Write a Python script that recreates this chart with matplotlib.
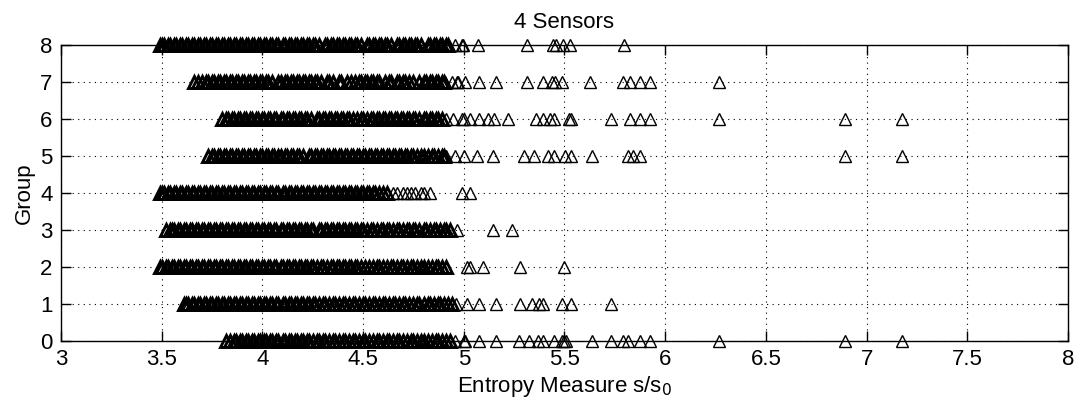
import numpy as np
import matplotlib
matplotlib.use('Agg')
import matplotlib.pyplot as plt

# entropy values; the packed band and the scattered tail of each group
dense0 = [3.82, 3.84, 3.86, 3.87, 3.89, 3.90, 3.92, 3.93, 3.95, 3.96, 3.98, 3.99, 4.01, 4.02, 4.04, 4.05,
          4.07, 4.08, 4.10, 4.11, 4.13, 4.14, 4.16, 4.17, 4.19, 4.20, 4.22, 4.23, 4.25, 4.27, 4.28, 4.30,
          4.31, 4.33, 4.35, 4.36, 4.38, 4.40, 4.41, 4.43, 4.45, 4.46, 4.48, 4.50, 4.51, 4.53, 4.55, 4.57,
          4.58, 4.60, 4.62, 4.63, 4.65, 4.67, 4.68, 4.70, 4.72, 4.74, 4.75, 4.77, 4.79, 4.80, 4.82, 4.84,
          4.86, 4.87, 4.89, 4.91, 4.93]
tail0 = [4.956, 4.999, 5.005, 5.075, 5.161, 5.272, 5.324, 5.366, 5.395, 5.447, 5.49, 5.498, 5.505,
         5.635, 5.729, 5.789, 5.815, 5.874, 5.926, 6.267, 6.892, 7.174]
dense1 = [3.61, 3.62, 3.63, 3.65, 3.66, 3.68, 3.69, 3.71, 3.72, 3.74, 3.75, 3.77, 3.78, 3.80, 3.81, 3.83,
          3.84, 3.86, 3.87, 3.89, 3.90, 3.92, 3.93, 3.95, 3.96, 3.98, 3.99, 4.01, 4.02, 4.04, 4.05, 4.07,
          4.08, 4.10, 4.11, 4.13, 4.14, 4.16, 4.17, 4.19, 4.20, 4.22, 4.23, 4.25, 4.26, 4.28, 4.30, 4.31,
          4.33, 4.35, 4.36, 4.38, 4.40, 4.41, 4.43, 4.45, 4.46, 4.48, 4.50, 4.51, 4.53, 4.55, 4.56, 4.58,
          4.60, 4.61, 4.63, 4.65, 4.66, 4.68, 4.70, 4.71, 4.73, 4.75, 4.77, 4.78, 4.80, 4.82, 4.83, 4.85,
          4.87, 4.88, 4.90, 4.92, 4.94]
tail1 = [4.96, 5.016, 5.075, 5.161, 5.281, 5.341, 5.375, 5.395, 5.49, 5.532, 5.729]
dense2 = [3.49, 3.50, 3.52, 3.53, 3.55, 3.56, 3.58, 3.59, 3.61, 3.62, 3.64, 3.65, 3.67, 3.68, 3.70, 3.71,
          3.73, 3.74, 3.76, 3.77, 3.79, 3.80, 3.82, 3.83, 3.85, 3.86, 3.88, 3.89, 3.91, 3.92, 3.94, 3.95,
          3.97, 3.98, 4.00, 4.01, 4.03, 4.04, 4.06, 4.07, 4.09, 4.10, 4.12, 4.13, 4.15, 4.16, 4.18, 4.19,
          4.21, 4.22, 4.24, 4.25, 4.27, 4.29, 4.30, 4.32, 4.34, 4.35, 4.37, 4.38, 4.40, 4.41, 4.43, 4.44,
          4.46, 4.47, 4.49, 4.51, 4.53, 4.55, 4.57, 4.58, 4.60, 4.62, 4.64, 4.65, 4.67, 4.69, 4.70, 4.72,
          4.74, 4.75, 4.77, 4.79, 4.80, 4.82, 4.84, 4.86, 4.87, 4.89, 4.91]
tail2 = [5.016, 5.03, 5.093, 5.281, 5.498]
dense3 = [3.52, 3.54, 3.55, 3.56, 3.58, 3.59, 3.61, 3.62, 3.64, 3.65, 3.67, 3.68, 3.70, 3.71, 3.73, 3.74,
          3.76, 3.77, 3.79, 3.80, 3.82, 3.83, 3.85, 3.86, 3.88, 3.89, 3.91, 3.92, 3.94, 3.95, 3.97, 3.98,
          4.00, 4.01, 4.03, 4.04, 4.06, 4.07, 4.09, 4.10, 4.12, 4.13, 4.15, 4.16, 4.18, 4.19, 4.21, 4.22,
          4.24, 4.25, 4.28, 4.29, 4.31, 4.32, 4.34, 4.35, 4.37, 4.38, 4.40, 4.41, 4.43, 4.44, 4.46, 4.47,
          4.49, 4.50, 4.52, 4.54, 4.55, 4.57, 4.59, 4.60, 4.62, 4.63, 4.65, 4.67, 4.68, 4.70, 4.72, 4.73,
          4.75, 4.76, 4.78, 4.80, 4.81, 4.83, 4.85, 4.86, 4.88, 4.90, 4.91, 4.93]
tail3 = [4.965, 5.144, 5.238]
dense4 = [3.49, 3.50, 3.51, 3.53, 3.54, 3.56, 3.57, 3.59, 3.60, 3.62, 3.63, 3.65, 3.66, 3.68, 3.69, 3.71,
          3.72, 3.74, 3.75, 3.77, 3.78, 3.80, 3.81, 3.83, 3.84, 3.86, 3.87, 3.89, 3.90, 3.92, 3.93, 3.95,
          3.96, 3.98, 3.99, 4.01, 4.02, 4.04, 4.05, 4.07, 4.08, 4.10, 4.11, 4.13, 4.14, 4.16, 4.17, 4.19,
          4.20, 4.22, 4.23, 4.25, 4.26, 4.28, 4.29, 4.31, 4.32, 4.34, 4.35, 4.37, 4.38, 4.40, 4.41, 4.43,
          4.44, 4.46, 4.47, 4.49, 4.50, 4.52, 4.53, 4.55, 4.56, 4.58, 4.60, 4.62]
tail4 = [4.65, 4.67, 4.70, 4.72, 4.74, 4.76, 4.79, 4.80, 4.83, 4.99, 5.03]
dense5 = [3.73, 3.75, 3.76, 3.78, 3.79, 3.81, 3.82, 3.84, 3.85, 3.87, 3.88, 3.90, 3.91, 3.93, 3.94, 3.96,
          3.97, 3.99, 4.00, 4.02, 4.03, 4.05, 4.06, 4.08, 4.09, 4.11, 4.12, 4.14, 4.15, 4.17, 4.18, 4.20,
          4.23, 4.24, 4.26, 4.27, 4.29, 4.30, 4.32, 4.33, 4.35, 4.36, 4.38, 4.39, 4.41, 4.42, 4.44, 4.45,
          4.47, 4.48, 4.50, 4.51, 4.53, 4.54, 4.56, 4.57, 4.59, 4.60, 4.62, 4.63, 4.65, 4.66, 4.68, 4.69,
          4.71, 4.72, 4.74, 4.75, 4.77, 4.79, 4.80, 4.82, 4.84, 4.85, 4.87, 4.89, 4.90]
tail5 = [4.913, 4.956, 4.999, 5.067, 5.144, 5.298, 5.349, 5.418, 5.447, 5.503, 5.532, 5.635,
         5.815, 5.84, 5.874, 6.892, 7.174]
dense6 = [3.80, 3.82, 3.83, 3.85, 3.86, 3.88, 3.89, 3.91, 3.92, 3.94, 3.95, 3.97, 3.98, 4.00, 4.01, 4.03,
          4.04, 4.06, 4.07, 4.09, 4.10, 4.12, 4.13, 4.15, 4.16, 4.18, 4.19, 4.21, 4.22, 4.24, 4.27, 4.28,
          4.30, 4.31, 4.33, 4.34, 4.36, 4.37, 4.39, 4.40, 4.42, 4.43, 4.45, 4.47, 4.49, 4.50, 4.52, 4.54,
          4.55, 4.57, 4.58, 4.60, 4.61, 4.63, 4.64, 4.66, 4.67, 4.69, 4.70, 4.72, 4.73, 4.75, 4.76, 4.78,
          4.80, 4.81, 4.83, 4.84, 4.86, 4.87, 4.89]
tail6 = [4.913, 4.947, 4.99, 5.0, 5.033, 5.075, 5.118, 5.152, 5.221, 5.358, 5.392, 5.426, 5.447,
         5.52, 5.532, 5.729, 5.823, 5.874, 5.926, 6.267, 6.892, 7.174]
dense7 = [3.66, 3.68, 3.70, 3.72, 3.73, 3.75, 3.76, 3.78, 3.79, 3.81, 3.82, 3.84, 3.85, 3.87, 3.88, 3.90,
          3.91, 3.93, 3.94, 3.96, 3.97, 3.99, 4.00, 4.02, 4.03, 4.05, 4.08, 4.09, 4.11, 4.12, 4.14, 4.15,
          4.17, 4.18, 4.20, 4.21, 4.23, 4.24, 4.26, 4.27, 4.29, 4.32, 4.33, 4.35, 4.38, 4.39, 4.42, 4.44,
          4.46, 4.48, 4.49, 4.51, 4.52, 4.54, 4.55, 4.57, 4.58, 4.61, 4.63, 4.64, 4.67, 4.68, 4.70, 4.71,
          4.73, 4.75, 4.78, 4.80, 4.81, 4.83, 4.84, 4.86, 4.87, 4.89, 4.90]
tail7 = [4.905, 4.939, 4.965, 4.97, 5.007, 5.075, 5.161, 5.315, 5.392, 5.438, 5.452, 5.49, 5.627,
         5.789, 5.823, 5.874, 5.926, 6.267]
dense8 = [3.49, 3.50, 3.51, 3.53, 3.54, 3.56, 3.57, 3.59, 3.60, 3.62, 3.63, 3.65, 3.66, 3.68, 3.69, 3.71,
          3.72, 3.74, 3.75, 3.77, 3.78, 3.80, 3.81, 3.83, 3.84, 3.86, 3.87, 3.89, 3.90, 3.92, 3.93, 3.95,
          3.96, 3.98, 3.99, 4.01, 4.02, 4.04, 4.05, 4.07, 4.08, 4.10, 4.11, 4.13, 4.14, 4.16, 4.17, 4.19,
          4.20, 4.22, 4.23, 4.25, 4.26, 4.28, 4.31, 4.32, 4.34, 4.35, 4.37, 4.38, 4.40, 4.41, 4.43, 4.44,
          4.46, 4.47, 4.49, 4.52, 4.53, 4.55, 4.56, 4.58, 4.59, 4.61, 4.62, 4.64, 4.67, 4.68, 4.70, 4.71,
          4.73, 4.74, 4.76, 4.77, 4.79, 4.82, 4.83, 4.85, 4.86, 4.88, 4.89, 4.91, 4.92]
tail8 = [4.956, 4.992, 4.998, 5.072, 5.312, 5.445, 5.46, 5.495, 5.528, 5.796]

dense = [dense0, dense1, dense2, dense3, dense4, dense5, dense6, dense7, dense8]
tails = [tail0, tail1, tail2, tail3, tail4, tail5, tail6, tail7, tail8]
x_ticks = [3, 3.5, 4, 4.5, 5, 5.5, 6, 6.5, 7, 7.5, 8]
x_tick_labels = ['3', '3.5', '4', '4.5', '5', '5.5', '6', '6.5', '7', '7.5', '8']
y_ticks = [0, 1, 2, 3, 4, 5, 6, 7, 8]

plt.rcParams['font.family'] = ['Liberation Sans', 'DejaVu Sans']
plt.rcParams['font.size'] = 16

fig = plt.figure(figsize=(10.81, 4.04), dpi=100)
ax = fig.add_axes([0.0564, 0.156, 0.9316, 0.7326])

# open triangles, one row per group; the packed band overlaps into solid black
for g in range(len(dense)):
    ax.plot(dense[g], np.full(len(dense[g]), g), linestyle='none', marker='^', markersize=8,
            markerfacecolor='none', markeredgecolor='black', markeredgewidth=2.1,
            clip_on=False, zorder=3)
    ax.plot(tails[g], np.full(len(tails[g]), g), linestyle='none', marker='^', markersize=8,
            markerfacecolor='none', markeredgecolor='black', markeredgewidth=1.0,
            clip_on=False, zorder=3)

ax.set_xlim(3, 8)
ax.set_ylim(0, 8)
ax.set_xticks(x_ticks)
ax.set_xticklabels(x_tick_labels)
ax.set_yticks(y_ticks)

ax.grid(True, color='black', linestyle=(0, (1, 4)), linewidth=0.8)
ax.set_axisbelow(True)
ax.tick_params(direction='in', length=7, width=1, top=True, right=True, pad=6)
for s in ax.spines.values():
    s.set_linewidth(1.0)

ax.set_title('4 Sensors', fontsize=16, pad=12)
ax.set_xlabel('Entropy Measure s/s$_0$', fontsize=16, labelpad=3)
ax.set_ylabel('Group', fontsize=16, labelpad=4)

fig.savefig('out.png', dpi=100)
